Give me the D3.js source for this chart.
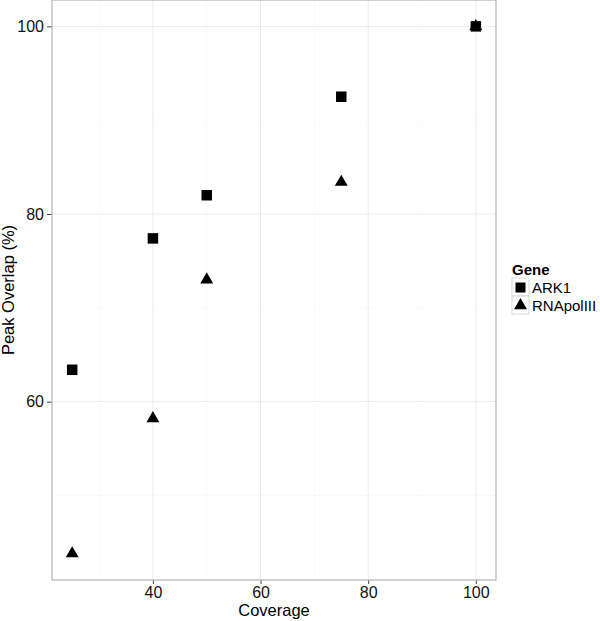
<!DOCTYPE html>
<html>
<head>
<meta charset="utf-8">
<script src="https://cdn.jsdelivr.net/npm/d3@7"></script>
<style>
  body { margin: 0; background: #fff; }
  svg text { font-family: "Liberation Sans", Arial, sans-serif; }
</style>
</head>
<body>
<div id="chart"></div>
<script>

// data
var coverage = [25, 40, 50, 75, 100];
var ark1 = [63.4, 77.4, 82.0, 92.5, 100];
var rnapol = [43.8, 58.2, 73.0, 83.4, 100];
var genes = ["ARK1", "RNApolIII"];
var xTicks = [40, 60, 80, 100];
var yTicks = [60, 80, 100];
var xMinor = [30, 50, 70, 90];
var yMinor = [50, 70, 90];

// set the dimensions and margins of the graph
var margin = {top: 0, right: 104, bottom: 41, left: 52},
    width = 600 - margin.left - margin.right,
    height = 621 - margin.top - margin.bottom;

var svg = d3.select("#chart")
  .append("svg")
    .attr("width", 600)
    .attr("height", 621);

var g = svg.append("g")
    .attr("transform", "translate(" + margin.left + "," + margin.top + ")");

// ggplot style 5% expansion
var allY = ark1.concat(rnapol);
var yMin = d3.min(allY), yMax = d3.max(allY);
var xMin = d3.min(coverage), xMax = d3.max(coverage);
var ex = (xMax - xMin) * 0.05, ey = (yMax - yMin) * 0.05;

var x = d3.scaleLinear()
  .domain([xMin - ex, xMax + ex])
  .range([0, width]);

var y = d3.scaleLinear()
  .domain([yMin - ey, yMax + ey])
  .range([height, 0]);

// minor grid
g.selectAll(".minx").data(xMinor).enter().append("line")
  .attr("x1", function(d) { return x(d); }).attr("x2", function(d) { return x(d); })
  .attr("y1", 0).attr("y2", height)
  .attr("stroke", "#f7f7f7").attr("stroke-width", 0.6);
g.selectAll(".miny").data(yMinor).enter().append("line")
  .attr("y1", function(d) { return y(d); }).attr("y2", function(d) { return y(d); })
  .attr("x1", 0).attr("x2", width)
  .attr("stroke", "#f7f7f7").attr("stroke-width", 0.6);

// major grid
g.selectAll(".majx").data(xTicks).enter().append("line")
  .attr("x1", function(d) { return x(d); }).attr("x2", function(d) { return x(d); })
  .attr("y1", 0).attr("y2", height)
  .attr("stroke", "#ebebeb").attr("stroke-width", 1);
g.selectAll(".majy").data(yTicks).enter().append("line")
  .attr("y1", function(d) { return y(d); }).attr("y2", function(d) { return y(d); })
  .attr("x1", 0).attr("x2", width)
  .attr("stroke", "#ebebeb").attr("stroke-width", 1);

// axes
var xAxis = g.append("g")
  .attr("transform", "translate(0," + height + ")")
  .call(d3.axisBottom(x).tickValues(xTicks).tickSize(4).tickPadding(3));
var yAxis = g.append("g")
  .call(d3.axisLeft(y).tickValues(yTicks).tickSize(5).tickPadding(3));

[xAxis, yAxis].forEach(function(a) {
  a.select(".domain").remove();
  a.selectAll("line").attr("stroke", "#444");
  a.selectAll("text").attr("fill", "#111").style("font-size", "16px");
});

// panel border
g.append("rect")
  .attr("x", 0).attr("y", 0)
  .attr("width", width).attr("height", height)
  .attr("fill", "none")
  .attr("stroke", "#b3b3b3")
  .attr("stroke-width", 1.2);

// points
var square = d3.symbol().type(d3.symbolSquare).size(110);
var triangle = d3.symbol().type(d3.symbolTriangle).size(72);

g.selectAll(".ark").data(coverage).enter().append("path")
  .attr("d", square)
  .attr("transform", function(d, i) { return "translate(" + x(d) + "," + y(ark1[i]) + ")"; })
  .attr("fill", "#000");

g.selectAll(".rna").data(coverage).enter().append("path")
  .attr("d", triangle)
  .attr("transform", function(d, i) { return "translate(" + x(d) + "," + y(rnapol[i]) + ")"; })
  .attr("fill", "#000");

// axis titles
svg.append("text")
  .attr("x", margin.left + width / 2)
  .attr("y", 616)
  .attr("text-anchor", "middle")
  .style("font-size", "16.5px")
  .text("Coverage");

svg.append("text")
  .attr("transform", "translate(14," + (height / 2) + ") rotate(-90)")
  .attr("text-anchor", "middle")
  .style("font-size", "16.5px")
  .text("Peak Overlap (%)");

// legend
var legend = svg.append("g").attr("transform", "translate(512,262)");
legend.append("text")
  .attr("x", 0).attr("y", 13)
  .style("font-size", "15px")
  .style("font-weight", "bold")
  .text("Gene");

var keys = legend.selectAll(".key").data(genes).enter().append("g")
  .attr("transform", function(d, i) { return "translate(0," + (16 + i * 18) + ")"; });
keys.append("rect")
  .attr("width", 17).attr("height", 18)
  .attr("fill", "#fff")
  .attr("stroke", "#ccc")
  .attr("stroke-width", 0.8);
keys.append("path")
  .attr("d", function(d, i) { return i === 0 ? d3.symbol().type(d3.symbolSquare).size(100)() : d3.symbol().type(d3.symbolTriangle).size(72)(); })
  .attr("transform", "translate(8.5,9.5)")
  .attr("fill", "#000");
keys.append("text")
  .attr("x", 20).attr("y", 14.5)
  .style("font-size", "15px")
  .text(function(d) { return d; });

</script>
</body>
</html>
